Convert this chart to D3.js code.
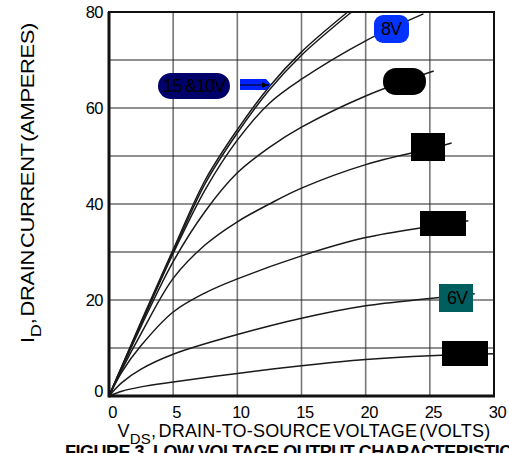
<!DOCTYPE html>
<html lang="en">
<head>
    <meta charset="UTF-8">
    <title>Low Voltage Output Characteristics</title>
    <script src="https://d3js.org/d3.v7.min.js"></script>
    <style>
        body { margin: 0; background: #fff; }
        svg { display: block; font-family: "Liberation Sans", Arial, sans-serif; }
        .tick text { font-size: 16.5px; fill: #000; letter-spacing: -0.5px; }
        .curve { fill: none; stroke: #1a1a1a; stroke-width: 1.5px; }
    </style>
</head>
<body>
    <div id="chart"></div>
    <script>
        // drain current (A) vs drain-source voltage (V), one array per gate voltage
        const vgs15 = [[0,0],[1,6.2],[2.5,15.5],[5,30.5],[7.5,45],[10,55.5],[12.5,64.5],[15,71.7],[18.6,80]];
        const vgs10 = [[0,0],[1,6.1],[2.5,15.2],[5,30],[7.5,44.3],[10,54.8],[12.5,63.8],[15,71],[18.9,80]];
        const vgs8  = [[0,0],[1,6],[2.5,15],[5,29.7],[7.5,43],[10,53.3],[12.5,61],[15,66],[20,74],[24.5,79.6]];
        const vgs7  = [[0,0],[1,5.8],[2.5,14.5],[5,28],[7.5,38.5],[10,46.5],[12.5,51.8],[15,56],[20,62.5],[25.3,67.7]];
        const vgs65 = [[0,0],[1,5.5],[2.5,13],[5,24.5],[7.5,31.5],[10,36.3],[12.5,40],[15,43.3],[20,48.2],[25,51.5],[26.7,52.7]];
        const vgs62 = [[0,0],[1,5],[2.5,10.5],[5,17.5],[7.5,21.5],[10,24.4],[15,29.2],[20,33],[25,35.3],[28,36.5]];
        const vgs6  = [[0,0],[1,2.8],[2.5,5.6],[5,8.7],[10,12.8],[15,16.2],[20,18.8],[25,20.3],[28.5,21.3]];
        const vgs5  = [[0,0],[1,1],[2.5,1.9],[5,2.9],[10,4.7],[15,6.3],[20,7.6],[25,8.4],[30,8.8]];
        const curves = [vgs15, vgs10, vgs8, vgs7, vgs65, vgs62, vgs6, vgs5];

        const xTicks = [0, 5, 10, 15, 20, 25, 30];
        const yTicks = [0, 20, 40, 60, 80];
        const yGrid = [10, 20, 30, 40, 50, 60, 70];

        const width = 509, height = 453;
        const svg = d3.select("#chart").append("svg")
            .attr("width", width).attr("height", height);

        const x = d3.scaleLinear().domain([0, 30]).range([109, 494]);
        const y = d3.scaleLinear().domain([0, 80]).range([396, 12]);

        // grid
        svg.append("g").selectAll("line").data(xTicks.slice(1, -1)).enter().append("line")
            .attr("x1", d => x(d)).attr("x2", d => x(d))
            .attr("y1", y(80)).attr("y2", y(0))
            .attr("stroke", "#777").attr("stroke-width", 1.6);
        svg.append("g").selectAll("line").data(yGrid).enter().append("line")
            .attr("x1", x(0)).attr("x2", x(30))
            .attr("y1", d => y(d)).attr("y2", d => y(d))
            .attr("stroke", "#222").attr("stroke-width", 1.2);

        // axes (labels only)
        const xAxis = svg.append("g").attr("transform", `translate(3,${y(0) + 4})`)
            .call(d3.axisBottom(x).tickValues(xTicks).tickSize(0).tickPadding(6));
        xAxis.select(".domain").remove();
        const yAxis = svg.append("g").attr("transform", `translate(${x(0) - 4},0)`)
            .call(d3.axisLeft(y).tickValues(yTicks).tickSize(0).tickPadding(2));
        yAxis.select(".domain").remove();
        yAxis.selectAll(".tick").filter(d => d === 0).select("text").attr("dy", "0.05em");

        // curves
        const line = d3.line().x(d => x(d[0])).y(d => y(d[1])).curve(d3.curveCatmullRom.alpha(0.5));
        svg.append("g").selectAll("path").data(curves).enter().append("path")
            .attr("class", "curve").attr("d", line);

        // frame
        svg.append("rect").attr("x", x(0)).attr("y", y(80))
            .attr("width", x(30) - x(0)).attr("height", y(0) - y(80))
            .attr("fill", "none").attr("stroke", "#111").attr("stroke-width", 2);
        svg.append("line").attr("x1", x(0)).attr("x2", x(0)).attr("y1", y(80)).attr("y2", y(0) + 1.5)
            .attr("stroke", "#111").attr("stroke-width", 3);
        svg.append("line").attr("x1", x(0)).attr("x2", x(30) + 1).attr("y1", y(0)).attr("y2", y(0))
            .attr("stroke", "#111").attr("stroke-width", 3);

        // curve labels
        svg.append("rect").attr("x", 158).attr("y", 73).attr("width", 72).attr("height", 26)
            .attr("rx", 13).attr("fill", "#00006b");
        svg.append("text").attr("x", 194).attr("y", 92).attr("text-anchor", "middle")
            .style("font-size", "18px").style("letter-spacing", "-1px").text("15 &10V");
        svg.append("path").attr("d", "M240,79 L266,79 L271,84.5 L266,90 L240,90 Z").attr("fill", "#0022ff");
        svg.append("defs").append("marker").attr("id", "ah")
            .attr("viewBox", "0 -5 10 10").attr("refX", 10).attr("refY", 0)
            .attr("markerWidth", 7).attr("markerHeight", 7).attr("orient", "auto")
            .append("path").attr("d", "M0,-4 L10,0 L0,4 Z").attr("fill", "#000");
        svg.append("line").attr("x1", 240).attr("x2", 269).attr("y1", 85).attr("y2", 85)
            .attr("stroke", "#000").attr("stroke-width", 1).attr("marker-end", "url(#ah)");

        svg.append("rect").attr("x", 374).attr("y", 15).attr("width", 35).attr("height", 28)
            .attr("rx", 9).attr("fill", "#0433ff");
        svg.append("text").attr("x", 391).attr("y", 35).attr("text-anchor", "middle")
            .style("font-size", "18px").style("letter-spacing", "-1px").text("8V");

        svg.append("rect").attr("x", 383).attr("y", 68).attr("width", 43).attr("height", 27)
            .attr("rx", 13).attr("fill", "#000");
        svg.append("rect").attr("x", 411).attr("y", 133).attr("width", 34).attr("height", 28).attr("fill", "#000");
        svg.append("rect").attr("x", 420).attr("y", 211).attr("width", 46).attr("height", 25).attr("fill", "#000");
        svg.append("rect").attr("x", 439).attr("y", 284).attr("width", 34).attr("height", 28).attr("fill", "#005e5e");
        svg.append("text").attr("x", 457).attr("y", 304).attr("text-anchor", "middle")
            .style("font-size", "18px").style("letter-spacing", "-1px").text("6V");
        svg.append("rect").attr("x", 442).attr("y", 341).attr("width", 46).attr("height", 25).attr("fill", "#000");

        // axis titles
        const xt = svg.append("text").attr("x", 304).attr("y", 437).attr("text-anchor", "middle")
            .style("font-size", "18px").style("letter-spacing", "0.2px").style("word-spacing", "-3px");
        xt.append("tspan").text("V");
        xt.append("tspan").attr("dy", 7).style("font-size", "15px").text("DS");
        xt.append("tspan").attr("dy", -7).text(", DRAIN-TO-SOURCE VOLTAGE (VOLTS)");

        const yt = svg.append("text").attr("transform", "translate(34,183) rotate(-90) scale(1.22,1)")
            .attr("text-anchor", "middle")
            .style("font-size", "18px").style("letter-spacing", "-0.3px").style("word-spacing", "-3px");
        yt.append("tspan").text("I");
        yt.append("tspan").attr("dy", 7).style("font-size", "15px").text("D");
        yt.append("tspan").attr("dy", -7).text(", DRAIN CURRENT (AMPERES)");

        svg.append("text").attr("x", 65).attr("y", 458)
            .style("font-size", "18px").style("font-weight", "bold").style("letter-spacing", "-0.5px")
            .text("FIGURE 3. LOW VOLTAGE OUTPUT CHARACTERISTICS");
    </script>
</body>
</html>
